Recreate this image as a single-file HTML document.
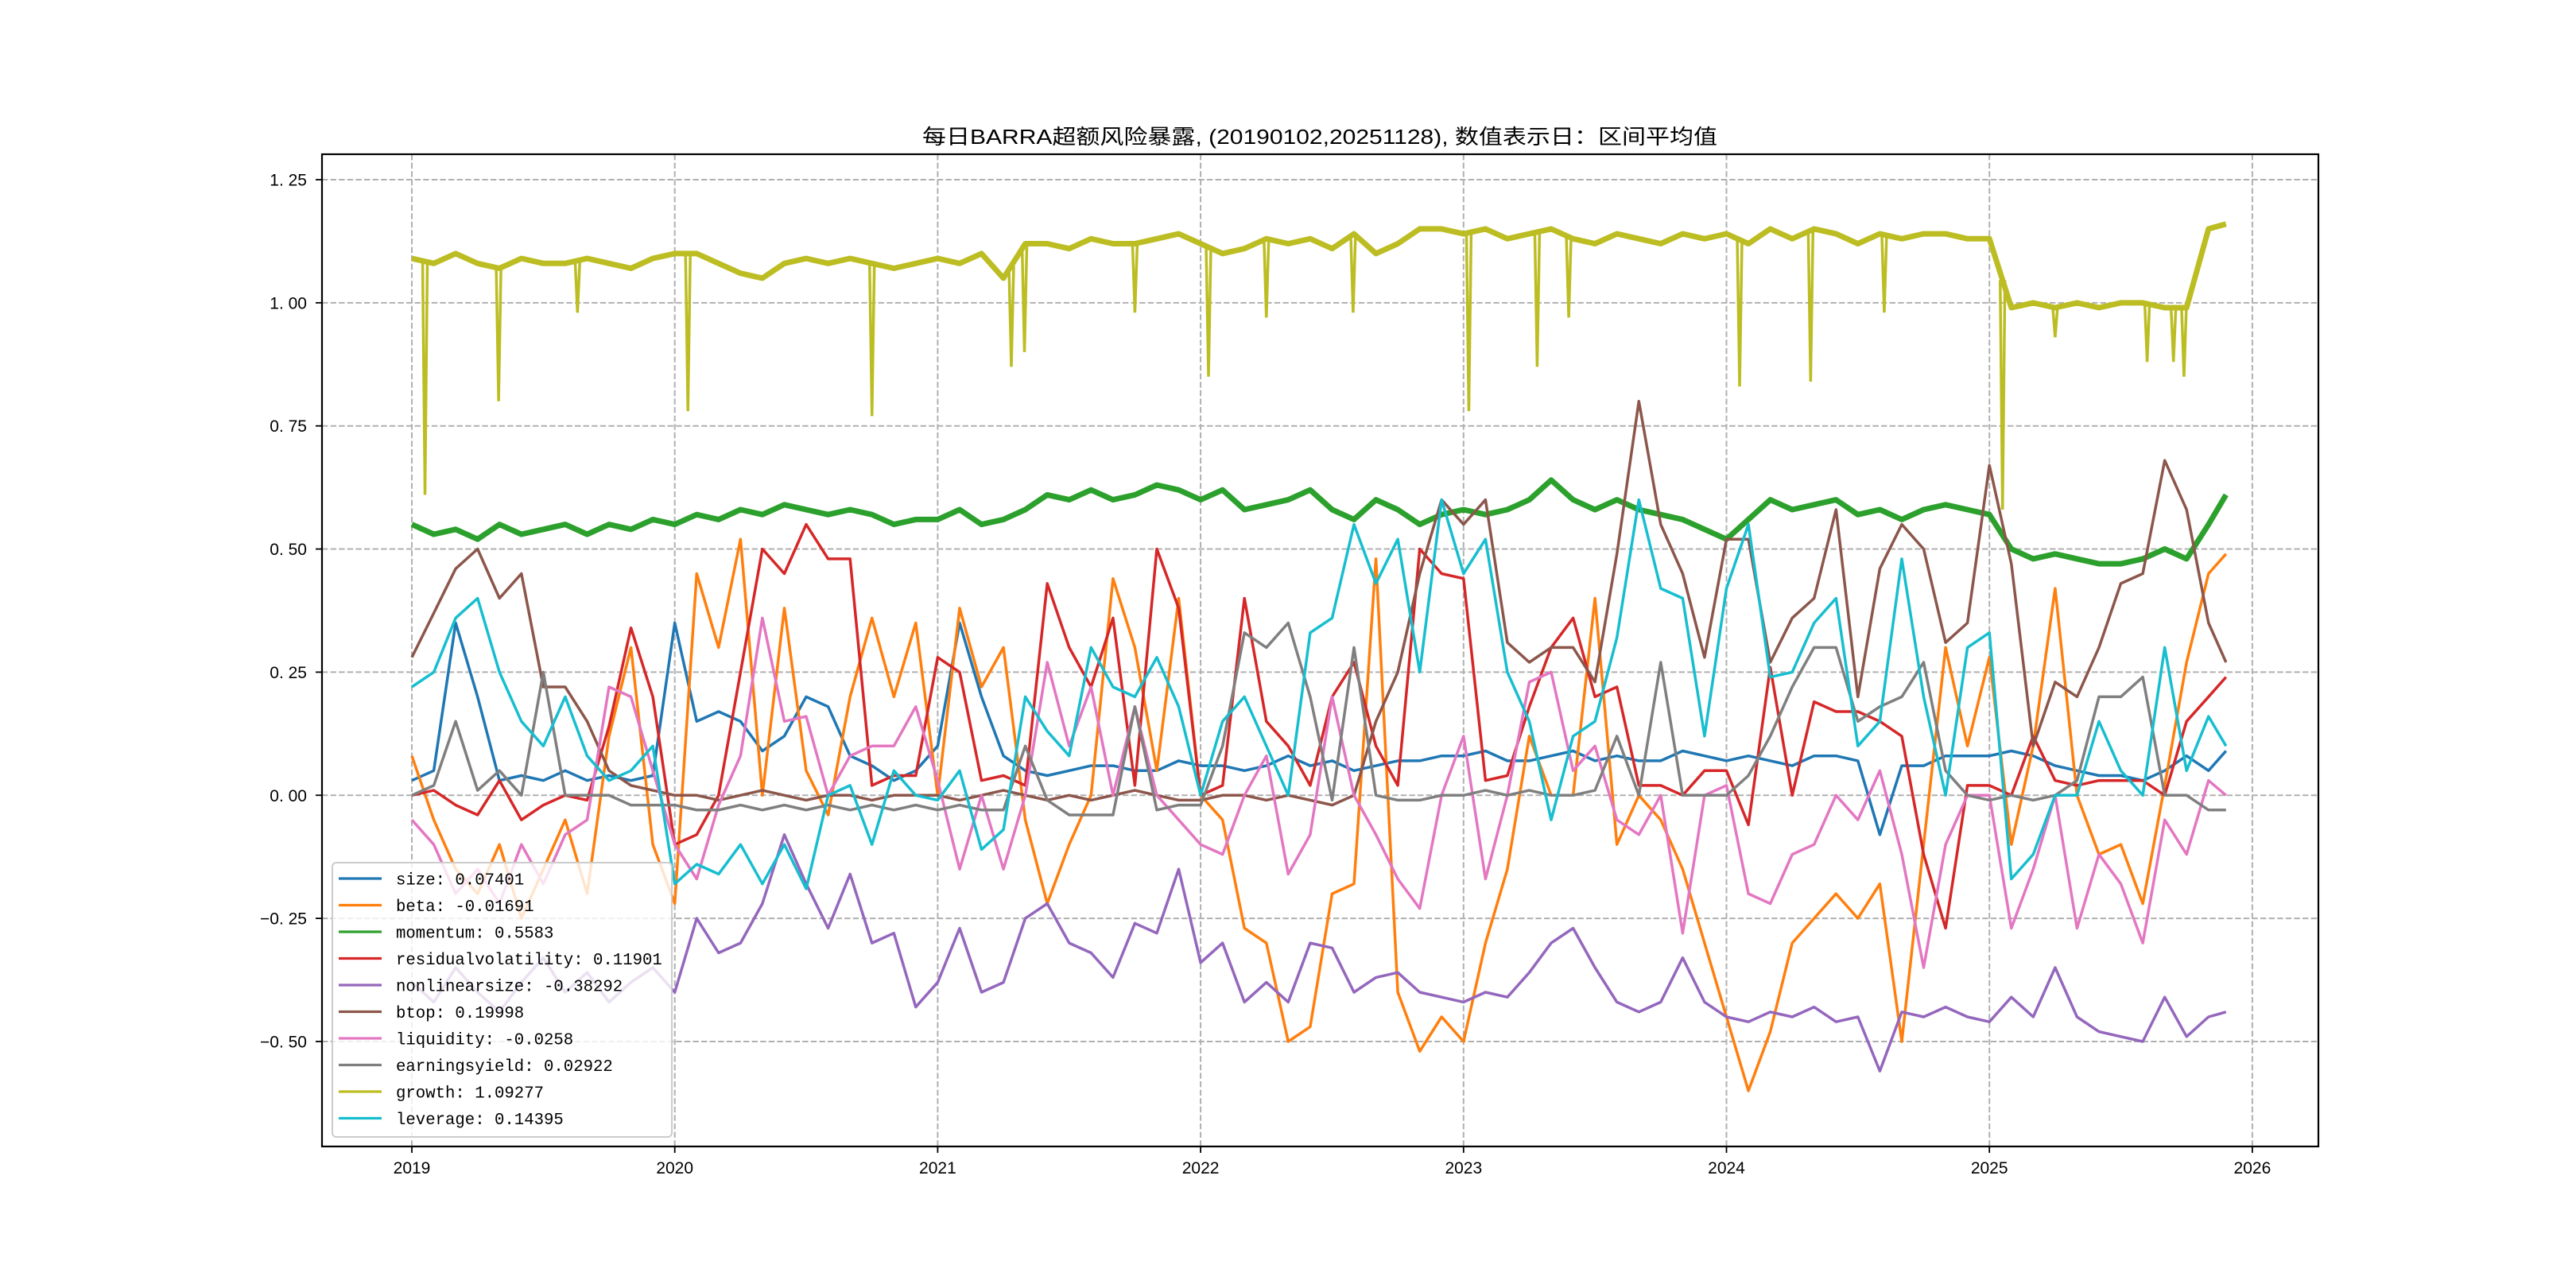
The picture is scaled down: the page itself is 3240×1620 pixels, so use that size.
<!DOCTYPE html>
<html><head><meta charset="utf-8"><style>
html,body{margin:0;padding:0;background:#fff;}
svg{display:block;}
</style></head><body>
<svg id="chart" xmlns="http://www.w3.org/2000/svg" width="3240" height="1620" viewBox="0 0 3240 1620">
<rect x="0" y="0" width="3240" height="1620" fill="#fff"/>
<text x="1660" y="181" text-anchor="middle" font-size="26" textLength="1000" lengthAdjust="spacingAndGlyphs" font-family="'Liberation Sans','Noto Sans CJK SC',sans-serif" fill="#000">每日BARRA超额风险暴露, (20190102,20251128),  数值表示日：区间平均值</text>
<g id="grid"></g>
<g id="series"></g>
<rect x="405" y="194" width="2511" height="1248" fill="none" stroke="#000" stroke-width="2.2"/>
<g id="ticks"></g>
<g id="legend"></g>
</svg>
<script>
const yearTicks = [2019,2020,2021,2022,2023,2024,2025,2026];
const valueTicks = [1.25,1.00,0.75,0.50,0.25,0.00,-0.25,-0.50];
const seriesNames = ["size","beta","momentum","residualvolatility","nonlinearsize","btop","liquidity","earningsyield","growth","leverage"];
const seriesMeans = ["0.07401","-0.01691","0.5583","0.11901","-0.38292","0.19998","-0.0258","0.02922","1.09277","0.14395"];
const seriesColors = ["#1f77b4","#ff7f0e","#2ca02c","#d62728","#9467bd","#8c564b","#e377c2","#7f7f7f","#bcbd22","#17becf"];

const size = [0.03,0.05,0.35,0.2,0.03,0.04,0.03,0.05,0.03,0.04,0.03,0.04,
0.35,0.15,0.17,0.15,0.09,0.12,0.2,0.18,0.08,0.06,0.03,0.05,
0.1,0.35,0.2,0.08,0.05,0.04,0.05,0.06,0.06,0.05,0.05,0.07,
0.06,0.06,0.05,0.06,0.08,0.06,0.07,0.05,0.06,0.07,0.07,0.08,
0.08,0.09,0.07,0.07,0.08,0.09,0.07,0.08,0.07,0.07,0.09,0.08,
0.07,0.08,0.07,0.06,0.08,0.08,0.07,-0.08,0.06,0.06,0.08,0.08,
0.08,0.09,0.08,0.06,0.05,0.04,0.04,0.03,0.05,0.08,0.05,0.09];
const beta = [0.08,-0.05,-0.15,-0.2,-0.1,-0.25,-0.15,-0.05,-0.2,0.12,0.3,-0.1,
-0.22,0.45,0.3,0.52,0.0,0.38,0.05,-0.04,0.2,0.36,0.2,0.35,
0.0,0.38,0.22,0.3,-0.05,-0.22,-0.1,0.0,0.44,0.3,0.05,0.4,
0.0,-0.05,-0.27,-0.3,-0.5,-0.47,-0.2,-0.18,0.48,-0.4,-0.52,-0.45,
-0.5,-0.3,-0.15,0.12,0.0,0.0,0.4,-0.1,0.0,-0.05,-0.15,-0.3,
-0.45,-0.6,-0.48,-0.3,-0.25,-0.2,-0.25,-0.18,-0.5,-0.1,0.3,0.1,
0.28,-0.1,0.1,0.42,0.0,-0.12,-0.1,-0.22,0.02,0.27,0.45,0.49];
const momentum = [0.55,0.53,0.54,0.52,0.55,0.53,0.54,0.55,0.53,0.55,0.54,0.56,
0.55,0.57,0.56,0.58,0.57,0.59,0.58,0.57,0.58,0.57,0.55,0.56,
0.56,0.58,0.55,0.56,0.58,0.61,0.6,0.62,0.6,0.61,0.63,0.62,
0.6,0.62,0.58,0.59,0.6,0.62,0.58,0.56,0.6,0.58,0.55,0.57,
0.58,0.57,0.58,0.6,0.64,0.6,0.58,0.6,0.58,0.57,0.56,0.54,
0.52,0.56,0.6,0.58,0.59,0.6,0.57,0.58,0.56,0.58,0.59,0.58,
0.57,0.5,0.48,0.49,0.48,0.47,0.47,0.48,0.5,0.48,0.55,0.61];
const residualvolatility = [0.0,0.01,-0.02,-0.04,0.03,-0.05,-0.02,0.0,-0.01,0.14,0.34,0.2,
-0.1,-0.08,0.0,0.25,0.5,0.45,0.55,0.48,0.48,0.02,0.04,0.04,
0.28,0.25,0.03,0.04,0.02,0.43,0.3,0.22,0.36,0.02,0.5,0.38,
0.0,0.02,0.4,0.15,0.1,0.02,0.2,0.27,0.1,0.02,0.5,0.45,
0.44,0.03,0.04,0.18,0.3,0.36,0.2,0.22,0.02,0.02,0.0,0.05,
0.05,-0.06,0.26,0.0,0.19,0.17,0.17,0.15,0.12,-0.12,-0.27,0.02,
0.02,0.0,0.12,0.03,0.02,0.03,0.03,0.03,0.0,0.15,0.2,0.24];
const nonlinearsize = [-0.38,-0.42,-0.35,-0.4,-0.44,-0.38,-0.33,-0.4,-0.36,-0.42,-0.38,-0.35,
-0.4,-0.25,-0.32,-0.3,-0.22,-0.08,-0.18,-0.27,-0.16,-0.3,-0.28,-0.43,
-0.38,-0.27,-0.4,-0.38,-0.25,-0.22,-0.3,-0.32,-0.37,-0.26,-0.28,-0.15,
-0.34,-0.3,-0.42,-0.38,-0.42,-0.3,-0.31,-0.4,-0.37,-0.36,-0.4,-0.41,
-0.42,-0.4,-0.41,-0.36,-0.3,-0.27,-0.35,-0.42,-0.44,-0.42,-0.33,-0.42,
-0.45,-0.46,-0.44,-0.45,-0.43,-0.46,-0.45,-0.56,-0.44,-0.45,-0.43,-0.45,
-0.46,-0.41,-0.45,-0.35,-0.45,-0.48,-0.49,-0.5,-0.41,-0.49,-0.45,-0.44];
const btop = [0.28,0.37,0.46,0.5,0.4,0.45,0.22,0.22,0.15,0.05,0.02,0.01,
0.0,0.0,-0.01,0.0,0.01,0.0,-0.01,0.0,0.0,-0.01,0.0,0.0,
0.0,-0.01,0.0,0.01,0.0,-0.01,0.0,-0.01,0.0,0.01,0.0,-0.01,
-0.01,0.0,0.0,-0.01,0.0,-0.01,-0.02,0.0,0.15,0.25,0.45,0.6,
0.55,0.6,0.31,0.27,0.3,0.3,0.23,0.49,0.8,0.55,0.45,0.28,
0.52,0.52,0.27,0.36,0.4,0.58,0.2,0.46,0.55,0.5,0.31,0.35,
0.67,0.47,0.1,0.23,0.2,0.3,0.43,0.45,0.68,0.58,0.35,0.27];
const liquidity = [-0.05,-0.1,-0.2,-0.15,-0.22,-0.1,-0.18,-0.08,-0.05,0.22,0.2,0.05,
-0.1,-0.17,-0.02,0.08,0.36,0.15,0.16,0.0,0.08,0.1,0.1,0.18,
0.03,-0.15,0.0,-0.15,0.0,0.27,0.1,0.22,0.0,0.18,0.0,-0.05,
-0.1,-0.12,0.0,0.08,-0.16,-0.08,0.2,0.0,-0.08,-0.17,-0.23,0.0,
0.12,-0.17,0.0,0.23,0.25,0.05,0.1,-0.05,-0.08,0.0,-0.28,0.0,
0.02,-0.2,-0.22,-0.12,-0.1,0.0,-0.05,0.05,-0.12,-0.35,-0.1,0.0,
0.0,-0.27,-0.15,0.0,-0.27,-0.12,-0.18,-0.3,-0.05,-0.12,0.03,0.0];
const earningsyield = [0.0,0.02,0.15,0.01,0.05,0.0,0.25,0.0,0.0,0.0,-0.02,-0.02,
-0.02,-0.03,-0.03,-0.02,-0.03,-0.02,-0.03,-0.02,-0.03,-0.02,-0.03,-0.02,
-0.03,-0.02,-0.03,-0.03,0.1,-0.01,-0.04,-0.04,-0.04,0.18,-0.03,-0.02,
-0.02,0.1,0.33,0.3,0.35,0.2,-0.01,0.3,0.0,-0.01,-0.01,0.0,
0.0,0.01,0.0,0.01,0.0,0.0,0.01,0.12,0.0,0.27,0.0,0.0,
0.0,0.04,0.12,0.22,0.3,0.3,0.15,0.18,0.2,0.27,0.05,0.0,
-0.01,0.0,-0.01,0.0,0.03,0.2,0.2,0.24,0.0,0.0,-0.03,-0.03];
const growth = [1.09,1.08,1.1,1.08,1.07,1.09,1.08,1.08,1.09,1.08,1.07,1.09,
1.1,1.1,1.08,1.06,1.05,1.08,1.09,1.08,1.09,1.08,1.07,1.08,
1.09,1.08,1.1,1.05,1.12,1.12,1.11,1.13,1.12,1.12,1.13,1.14,
1.12,1.1,1.11,1.13,1.12,1.13,1.11,1.14,1.1,1.12,1.15,1.15,
1.14,1.15,1.13,1.14,1.15,1.13,1.12,1.14,1.13,1.12,1.14,1.13,
1.14,1.12,1.15,1.13,1.15,1.14,1.12,1.14,1.13,1.14,1.14,1.13,
1.13,0.99,1.0,0.99,1.0,0.99,1.0,1.0,0.99,0.99,1.15,1.16];
const leverage = [0.22,0.25,0.36,0.4,0.25,0.15,0.1,0.2,0.08,0.03,0.05,0.1,
-0.18,-0.14,-0.16,-0.1,-0.18,-0.1,-0.19,0.0,0.02,-0.1,0.05,0.0,
-0.01,0.05,-0.11,-0.07,0.2,0.13,0.08,0.3,0.22,0.2,0.28,0.18,
0.0,0.15,0.2,0.1,0.0,0.33,0.36,0.55,0.43,0.52,0.25,0.6,
0.45,0.52,0.25,0.15,-0.05,0.12,0.15,0.32,0.6,0.42,0.4,0.12,
0.42,0.55,0.24,0.25,0.35,0.4,0.1,0.15,0.48,0.2,0.0,0.3,
0.33,-0.17,-0.12,0.0,0.0,0.15,0.05,0.0,0.3,0.05,0.16,0.1];
const growthDipDates = [2019.05,2019.33,2019.63,2020.05,2020.75,2021.28,2021.33,2021.75,2022.03,2022.25,2022.58,2023.02,2023.28,2023.4,2024.05,2024.32,2024.6,2025.05,2025.25,2025.6,2025.7,2025.74];
const growthDipValues = [0.61,0.8,0.98,0.78,0.77,0.87,0.9,0.98,0.85,0.97,0.98,0.78,0.87,0.97,0.83,0.84,0.98,0.58,0.93,0.88,0.88,0.85];
const seriesData = [size,beta,momentum,residualvolatility,nonlinearsize,btop,liquidity,earningsyield,growth,leverage];

const NS = "http://www.w3.org/2000/svg";
const L=405,R=2916,T=194,B=1442;
function xScale(t){return 518 + (t-2019)*330.7;}
function yScale(v){return 226 + (1.25-v)*619.4;}
function dateAt(i){return Math.min(2019 + i/12, 2025.9);}
function mk(tag,attrs,parent){const e=document.createElementNS(NS,tag);for(const k in attrs)e.setAttribute(k,attrs[k]);parent.appendChild(e);return e;}

const grid=document.getElementById('grid'), ticks=document.getElementById('ticks');
yearTicks.forEach(yr=>{
  const x=xScale(yr);
  const g=mk('line',{x1:x,x2:x,y1:T,y2:B,stroke:'#b0b0b0','stroke-width':2,'stroke-dasharray':'7.4,3.2'},grid);
  
  
  const tk=mk('line',{x1:x,x2:x,y1:B,y2:B+8,stroke:'#000','stroke-width':1.8},ticks);
  
  
  const tx=mk('text',{x:x,y:B+34,'text-anchor':'middle','font-size':21,'font-family':"'Liberation Sans',sans-serif",fill:'#000'},ticks);
  tx.textContent=String(yr);
  
  
});
valueTicks.forEach(v=>{
  const y=yScale(v);
  const g=mk('line',{x1:L,x2:R,y1:y,y2:y,stroke:'#b0b0b0','stroke-width':2,'stroke-dasharray':'7.4,3.2'},grid);
  
  
  const tk=mk('line',{x1:L-8,x2:L,y1:y,y2:y,stroke:'#000','stroke-width':1.8},ticks);
  
  
  const tx=mk('text',{x:386,y:y+7.5,'text-anchor':'end','font-size':21,'font-family':"'Liberation Sans',sans-serif",fill:'#000'},ticks);
  tx.textContent=(v<0?'\u2212':'')+Math.abs(v).toFixed(2).replace('.','. ');
  
  
});

const sg=document.getElementById('series');
seriesData.forEach((arr,k)=>{
  let d='';
  arr.forEach((v,i)=>{d+=(i?'L':'M')+xScale(dateAt(i)).toFixed(1)+','+yScale(v).toFixed(1);});
  const w=(seriesNames[k]==='growth'||seriesNames[k]==='momentum')?7:3.5;
  const p=mk('path',{d:d,fill:'none',stroke:seriesColors[k],'stroke-width':w,'stroke-linejoin':'round'},sg);
  
  
});
function growthBase(t){const f=(t-2019)*12;const i=Math.max(0,Math.min(growth.length-2,Math.floor(f)));const r=f-i;return growth[i]*(1-r)+growth[i+1]*r;}
growthDipDates.forEach((t,j)=>{
  const b=yScale(growthBase(t));
  const d='M'+(xScale(t)-3)+','+b+'L'+xScale(t)+','+yScale(growthDipValues[j])+'L'+(xScale(t)+3)+','+b;
  const p=mk('path',{d:d,fill:'none',stroke:'#bcbd22','stroke-width':3.5},sg);
  
  
});

const lg=document.getElementById('legend');
const box=mk('rect',{x:418,y:1085,width:427,height:345,rx:5,fill:'#fff','fill-opacity':0.8,stroke:'#cccccc','stroke-width':2},lg);


seriesNames.forEach((n,k)=>{
  const y=1105+k*33.5;
  const ln=mk('line',{x1:426,x2:480,y1:y,y2:y,stroke:seriesColors[k],'stroke-width':3.2},lg);
  
  
  const label=n+': '+seriesMeans[k];
  const tx=mk('text',{x:498,y:y+7.5,'font-size':21,'font-family':"'Liberation Mono',monospace",fill:'#000',textLength:(label.length*12.4).toFixed(1),lengthAdjust:'spacingAndGlyphs'},lg);
  tx.textContent=label;
  
  
});
</script>
</body></html>
